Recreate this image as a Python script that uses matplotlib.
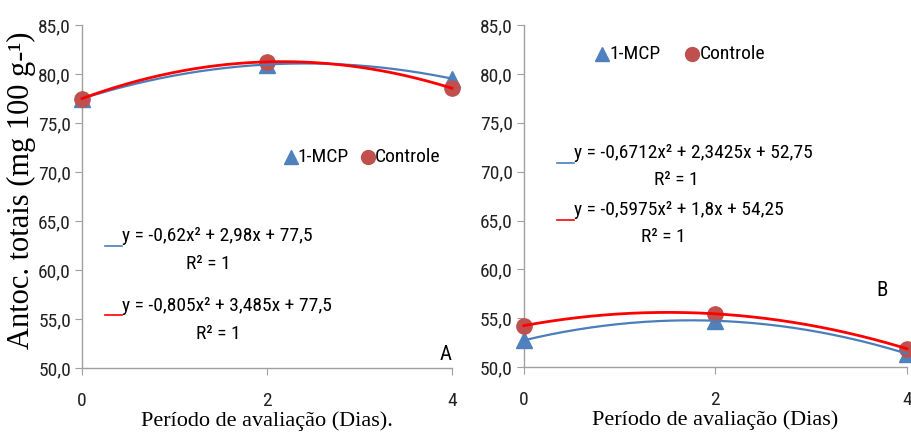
import numpy as np
import matplotlib
matplotlib.use("Agg")
import matplotlib.pyplot as plt
from matplotlib import font_manager

# evaluation days and anthocyanin contents for both trials
dias = [0, 2, 4]
mcp_a = [77.5, 80.98, 79.54]
ctrl_a = [77.5, 81.25, 78.56]
mcp_b = [52.75, 54.75, 51.38]
ctrl_b = [54.25, 55.46, 51.89]

eq_mcp_a = "y = -0,62x² + 2,98x + 77,5"
eq_ctrl_a = "y = -0,805x² + 3,485x + 77,5"
eq_mcp_b = "y = -0,6712x² + 2,3425x + 52,75"
eq_ctrl_b = "y = -0,5975x² + 1,8x + 54,25"
r2_text = "R² = 1"

yticks = [50, 55, 60, 65, 70, 75, 80, 85]
ytick_labels = ["50,0", "55,0", "60,0", "65,0", "70,0", "75,0", "80,0", "85,0"]

BLUE_MK = "#4F81BD"
RED_MK = "#C0504D"
BLUE_LN = "#4A7EBB"
RED_LN = "#FF0000"

# prefer a narrow sans if one is installed
_names = {f.name for f in font_manager.fontManager.ttflist}
SANS = [n for n in ("Liberation Sans Narrow", "Roboto Condensed",
                    "Open Sans Condensed", "Liberation Sans") if n in _names]
SANS.append("DejaVu Sans")
SERIF = ["Liberation Serif", "DejaVu Serif"]

fig = plt.figure(figsize=(9.11, 4.33), dpi=100)
ax_a = fig.add_axes([0.090, 0.150, 0.406, 0.792])
ax_b = fig.add_axes([0.575, 0.152, 0.4205, 0.790])


def draw_panel(ax, mcp, ctrl):
    xs = np.linspace(0, 4, 200)
    for vals, mk, mc, lc, lw in ((mcp, "^", BLUE_MK, BLUE_LN, 1.6),
                                 (ctrl, "o", RED_MK, RED_LN, 2.0)):
        coef = np.polyfit(dias, vals, 2)
        ax.plot(dias, vals, ls="none", marker=mk, ms=11, color=mc,
                clip_on=False, zorder=3)
        ax.plot(xs, np.polyval(coef, xs), color=lc, lw=lw, zorder=4,
                clip_on=False)
    ax.set_xlim(0, 4)
    ax.set_ylim(50, 85)
    ax.set_xticks(dias)
    ax.set_xticklabels([str(d) for d in dias], family=SANS, fontsize=14)
    ax.set_yticks(yticks)
    ax.set_yticklabels(ytick_labels, family=SANS, fontsize=14)
    for s in ("top", "right"):
        ax.spines[s].set_visible(False)
    for s in ("left", "bottom"):
        ax.spines[s].set_color("#A0A0A0")
        ax.spines[s].set_linewidth(1.0)
    ax.tick_params(axis="both", direction="out", length=5, color="#A0A0A0",
                   labelcolor="#222222")
    ax.tick_params(axis="x", pad=12)
    ax.tick_params(axis="y", pad=3)


def legend_items(ax, x1, x2, y):
    # marker + label pairs placed in axes fraction
    ax.plot([x1], [y], marker="^", ms=10, color=BLUE_MK, ls="none",
            transform=ax.transAxes, clip_on=False)
    ax.text(x1 + 0.018, y, "1-MCP", transform=ax.transAxes, va="center",
            ha="left", family=SANS, fontsize=14)
    ax.plot([x2], [y], marker="o", ms=10, color=RED_MK, ls="none",
            transform=ax.transAxes, clip_on=False)
    ax.text(x2 + 0.018, y, "Controle", transform=ax.transAxes, va="center",
            ha="left", family=SANS, fontsize=14)


def equation(ax, x_line, y, text, color, r2_x, r2_y):
    ax.plot([x_line, x_line + 0.045], [y - 0.028, y - 0.028], color=color,
            lw=1.2, transform=ax.transAxes, clip_on=False)
    ax.text(x_line + 0.045, y, text, transform=ax.transAxes, va="center",
            ha="left", family=SANS, fontsize=14)
    ax.text(r2_x, r2_y, r2_text, transform=ax.transAxes, va="center",
            ha="left", family=SANS, fontsize=14)


draw_panel(ax_a, mcp_a, ctrl_a)
draw_panel(ax_b, mcp_b, ctrl_b)

legend_items(ax_a, 0.565, 0.773, 0.616)
legend_items(ax_b, 0.205, 0.440, 0.915)

equation(ax_a, 0.062, 0.385, eq_mcp_a, BLUE_LN, 0.282, 0.302)
equation(ax_a, 0.062, 0.182, eq_ctrl_a, RED_LN, 0.308, 0.100)
equation(ax_b, 0.086, 0.626, eq_mcp_b, BLUE_LN, 0.341, 0.548)
equation(ax_b, 0.086, 0.459, eq_ctrl_b, RED_LN, 0.305, 0.380)

ax_a.text(1.0, 0.04, "A", transform=ax_a.transAxes, ha="right",
          va="center", family=SANS, fontsize=15)
ax_b.text(0.95, 0.225, "B", transform=ax_b.transAxes, ha="right",
          va="center", family=SANS, fontsize=15)

ax_a.set_xlabel("Período de avaliação (Dias).", family=SERIF, fontsize=16,
                labelpad=1)
ax_b.set_xlabel("Período de avaliação (Dias)", family=SERIF, fontsize=16,
                labelpad=1)
fig.text(0.024, 0.56, "Antoc. totais (mg 100 g-¹)", rotation=90,
         family=SERIF, fontsize=22, ha="center", va="center")

fig.savefig("out.png", dpi=100)
